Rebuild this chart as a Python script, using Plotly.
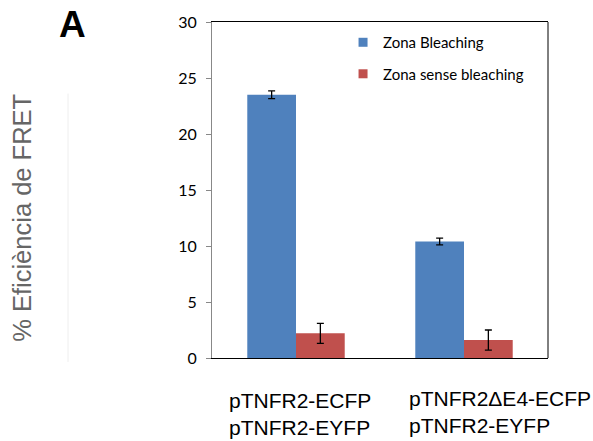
import plotly.graph_objects as go

categories = ["pTNFR2-ECFP<br>pTNFR2-EYFP", "pTNFR2ΔE4-ECFP<br>pTNFR2-EYFP"]
series_names = ["Zona Bleaching", "Zona sense bleaching"]
bleach_vals = [23.5, 10.4]
bleach_err = [0.35, 0.3]
nobleach_vals = [2.2, 1.6]
nobleach_err = [0.9, 0.9]
colors = ["#4F81BD", "#C0504D"]
y_ticks = [0, 5, 10, 15, 20, 25, 30]

fig = go.Figure()
for name, vals, errs, col in [
    (series_names[0], bleach_vals, bleach_err, colors[0]),
    (series_names[1], nobleach_vals, nobleach_err, colors[1]),
]:
    fig.add_trace(go.Bar(
        x=categories, y=vals, name=name, showlegend=False,
        marker=dict(color=col, line=dict(width=0)),
        error_y=dict(type="data", array=errs, color="black", thickness=1.3, width=3.5),
    ))
    fig.add_trace(go.Scatter(
        x=[categories[0]], y=[None], mode="markers", name=name, legendgroup=name,
        marker=dict(symbol="square", size=9, color=col),
    ))

fig.update_layout(
    width=593, height=441,
    margin=dict(l=212, r=45, t=20, b=83),
    plot_bgcolor="white", paper_bgcolor="white",
    barmode="group", bargap=0.42, bargroupgap=0,
    showlegend=True,
    legend=dict(x=0.39, y=0.988, xanchor="left", yanchor="top",
                font=dict(family="Lato", size=15, color="black"),
                bgcolor="rgba(0,0,0,0)", traceorder="grouped", tracegroupgap=9,
                itemwidth=30),
    xaxis=dict(type="category", range=[-0.5, 1.5], showticklabels=False, showline=True,
               linecolor="black", linewidth=1,
               mirror=True, ticks="", showgrid=False, zeroline=False),
    yaxis=dict(range=[0, 30], tickvals=y_ticks, showline=True, linecolor="#888888",
               linewidth=1, ticks="outside", ticklen=5, tickcolor="#888888",
               showgrid=False, zeroline=False, ticklabelstandoff=6,
               tickfont=dict(family="Lato", size=16, color="black")),
    font=dict(family="Liberation Sans"),
)

# right border
fig.add_shape(type="line", xref="paper", yref="paper", x0=1, x1=1, y0=0, y1=1,
              line=dict(color="black", width=1))
# faint vertical line near title
fig.add_shape(type="line", xref="paper", yref="paper", x0=-144/336, x1=-144/336,
              y0=-4/338, y1=266/338, line=dict(color="#eeeeee", width=1))

# category labels (left-aligned, two lines)
shifts = [-69, -57]
yshifts = [0, 2]
for cat, xs, ys in zip(categories, shifts, yshifts):
    fig.add_annotation(x=cat, xref="x", y=0, yref="paper", text=cat, showarrow=False,
                       xanchor="left", yanchor="top", align="left", xshift=xs, yshift=-29 + ys,
                       font=dict(family="Liberation Sans", size=21, color="black"))

# y-axis title
fig.add_annotation(text="% Eficiència de FRET", xref="paper", yref="paper",
                   x=-190/336, y=(358 - 217) / 338, textangle=-90, showarrow=False,
                   xanchor="center", yanchor="middle",
                   font=dict(family="Liberation Sans", size=25.5, color="#666666"))
# panel letter
fig.add_annotation(text="<b>A</b>", xref="paper", yref="paper",
                   x=-140/336, y=(358 - 23) / 338, showarrow=False,
                   xanchor="center", yanchor="middle",
                   font=dict(family="Liberation Sans", size=37, color="black"))

fig.write_html("out.html")
